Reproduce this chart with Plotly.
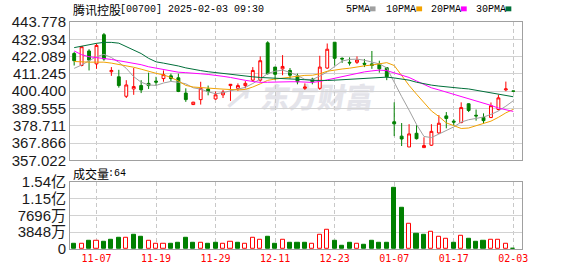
import base64
import plotly.graph_objects as go

# ---------------- data ----------------
dates = ['2024-11-04','2024-11-05','2024-11-06','2024-11-07','2024-11-08','2024-11-11','2024-11-12','2024-11-13',
         '2024-11-14','2024-11-15','2024-11-18','2024-11-19','2024-11-20','2024-11-21','2024-11-22','2024-11-25',
         '2024-11-26','2024-11-27','2024-11-28','2024-11-29','2024-12-02','2024-12-03','2024-12-04','2024-12-05',
         '2024-12-06','2024-12-09','2024-12-10','2024-12-11','2024-12-12','2024-12-13','2024-12-16','2024-12-17',
         '2024-12-18','2024-12-19','2024-12-20','2024-12-23','2024-12-24','2024-12-27','2024-12-30','2024-12-31',
         '2025-01-02','2025-01-03','2025-01-06','2025-01-07','2025-01-08','2025-01-09','2025-01-10','2025-01-13',
         '2025-01-14','2025-01-15','2025-01-16','2025-01-17','2025-01-20','2025-01-21','2025-01-22','2025-01-23',
         '2025-01-24','2025-01-27','2025-01-28','2025-02-03']

opens = [424.0, 416.5, 425.6, 417.5, 435.8, 412.6, 409.4, 397.2, 401.8, 403.9,
         405.3, 406.7, 408.3, 410.0, 408.8, 399.2, 392.0, 395.1, 401.8, 395.5,
         398.1, 403.9, 402.2, 403.9, 407.3, 407.3, 430.7, 415.5, 414.4, 413.4,
         410.0, 402.2, 407.9, 402.2, 414.9, 431.1, 421.0, 418.5, 418.5, 417.9,
         417.5, 417.5, 415.1, 381.2, 372.2, 365.4, 374.0, 365.0, 366.5, 374.2,
         384.9, 381.6, 380.7, 392.5, 385.3, 383.9, 383.9, 388.9, 401.2, 400.5]
highs = [425.0, 428.7, 426.7, 430.3, 436.9, 415.5, 413.8, 407.3, 414.9, 407.3,
         412.0, 409.4, 413.4, 411.4, 411.4, 402.2, 393.7, 406.3, 403.9, 400.2,
         401.2, 404.9, 405.3, 406.7, 415.5, 422.2, 431.7, 415.5, 423.0, 414.9,
         411.4, 405.3, 408.8, 422.6, 430.3, 431.1, 421.6, 421.6, 422.2, 420.6,
         425.6, 419.5, 415.5, 393.4, 380.4, 379.7, 379.1, 371.5, 379.7, 385.4,
         387.3, 382.8, 393.4, 392.8, 388.9, 386.5, 393.3, 398.2, 406.4, 400.5]
lows = [416.5, 416.0, 413.4, 414.4, 419.5, 410.0, 402.6, 396.1, 398.1, 399.2,
        401.8, 403.9, 406.3, 406.7, 399.8, 393.7, 391.7, 392.0, 397.8, 395.1,
        396.1, 394.3, 400.6, 402.2, 406.3, 406.3, 410.8, 407.3, 410.4, 408.3,
        404.7, 401.2, 404.7, 401.2, 414.4, 416.5, 418.1, 416.5, 417.5, 415.5,
        414.4, 412.0, 407.3, 372.2, 366.0, 365.4, 370.1, 365.0, 366.0, 373.6,
        377.1, 378.7, 380.3, 387.3, 381.9, 379.9, 383.5, 388.3, 400.4, 400.4]
closes = [419.5, 428.3, 419.9, 429.1, 420.6, 413.4, 403.9, 404.3, 403.3, 401.2,
          403.9, 406.1, 410.8, 408.3, 400.2, 395.1, 393.5, 402.2, 400.2, 398.1,
          399.8, 404.7, 403.9, 405.3, 413.4, 419.5, 411.4, 411.0, 415.9, 410.4,
          406.3, 403.0, 406.3, 415.5, 426.7, 421.0, 420.6, 418.1, 419.9, 417.3,
          416.5, 414.4, 409.4, 379.9, 370.4, 373.6, 370.6, 366.3, 375.2, 380.3,
          383.3, 381.0, 390.1, 388.3, 384.9, 381.9, 391.3, 396.2, 401.8, 400.4]

ma5 = [414.7, 416.8, 419.5, 422.0, 423.5, 421.5, 418.5, 414.7, 409.5, 406.0,
       404.3, 404.0, 405.5, 406.5, 406.0, 405.0, 402.5, 401.7, 400.0, 398.8,
       399.5, 400.5, 401.8, 402.8, 405.2, 408.0, 411.5, 412.9, 413.6, 412.2,
       410.2, 407.8, 407.7, 409.8, 412.5, 416.2, 419.3, 420.3, 420.5, 419.8,
       418.8, 417.5, 415.0, 405.5, 397.0, 388.5, 379.5, 372.0, 371.3, 373.5,
       375.5, 378.0, 381.0, 382.5, 383.3, 384.2, 385.8, 388.0, 391.0, 394.4]
ma10 = [419.0, 418.7, 418.6, 418.6, 418.6, 418.0, 417.2, 416.3, 415.4, 414.2,
        412.8, 411.6, 410.6, 409.0, 406.8, 404.0, 403.0, 402.8, 402.4, 402.0,
        401.7, 401.3, 401.2, 401.5, 403.0, 405.0, 407.2, 408.0, 408.5, 409.4,
        409.8, 410.3, 410.4, 411.3, 412.9, 413.7, 414.3, 414.8, 415.7, 416.3,
        416.8, 417.6, 418.3, 416.5, 410.0, 404.0, 398.5, 393.0, 388.0, 384.5,
        380.5, 378.8, 377.0, 377.3, 378.8, 380.2, 381.6, 384.0, 386.8, 389.0]
ma20 = [425.6, 423.3, 422.0, 421.5, 421.0, 420.3, 419.5, 418.8, 418.0, 417.0,
        415.7, 414.8, 413.9, 413.0, 412.3, 412.0, 411.8, 411.3, 410.9, 410.5,
        409.7, 409.0, 408.0, 407.2, 406.5, 405.9, 406.0, 406.2, 406.3, 406.3,
        406.3, 406.0, 405.9, 406.5, 407.5, 408.8, 409.8, 410.8, 411.7, 412.5,
        413.1, 413.6, 413.3, 411.8, 410.5, 409.0, 406.8, 404.5, 402.5, 401.2,
        399.8, 398.4, 397.2, 396.0, 394.5, 393.0, 391.5, 389.8, 388.6, 387.7]
ma30 = [427.7, 428.7, 429.6, 430.4, 431.0, 431.0, 430.5, 428.5, 426.3, 424.0,
        421.0, 418.8, 418.0, 417.2, 416.2, 415.0, 414.0, 413.3, 412.6, 412.0,
        411.4, 410.8, 410.2, 409.7, 409.4, 409.0, 408.8, 408.6, 408.5, 408.4,
        408.2, 407.6, 407.2, 407.0, 407.1, 407.3, 407.6, 407.9, 408.3, 408.7,
        408.9, 409.1, 409.2, 408.7, 408.1, 407.3, 406.0, 405.0, 404.2, 403.6,
        403.0, 402.6, 402.2, 401.8, 401.0, 400.3, 399.7, 398.8, 397.8, 396.9]

# volume in millions of shares, and whether the day closed up (red) or down (green)
volumes_m = [11.0, 12.5, 19.8, 19.1, 17.6, 22.0, 26.4, 25.7, 33.0, 28.6,
             19.1, 12.5, 12.5, 11.0, 15.4, 26.4, 15.4, 14.7, 11.0, 15.4,
             12.5, 16.9, 13.2, 12.5, 25.7, 21.3, 28.6, 11.0, 21.3, 15.4,
             13.2, 15.4, 12.5, 32.3, 43.2, 19.8, 6.6, 13.2, 12.5, 8.8,
             19.8, 15.4, 15.4, 141.0, 94.6, 58.6, 35.2, 33.0, 38.8, 28.6,
             24.2, 15.4, 30.0, 24.2, 17.6, 19.8, 21.3, 21.3, 12.5, 1.2]
vol_up = [0, 1, 0, 1, 0, 0, 0, 1, 0, 0,
          1, 1, 1, 0, 0, 0, 0, 1, 0, 0,
          1, 1, 0, 1, 1, 1, 0, 0, 1, 0,
          0, 0, 1, 1, 1, 0, 0, 0, 1, 0,
          0, 0, 0, 0, 0, 1, 0, 0, 1, 1,
          1, 0, 1, 0, 0, 0, 1, 1, 1, 0]

tick_dates = ['2024-11-07', '2024-11-19', '2024-11-29', '2024-12-11',
              '2024-12-23', '2025-01-07', '2025-01-17', '2025-02-03']
tick_labels = ['11-07', '11-19', '11-29', '12-11', '12-23', '01-07', '01-17', '02-03']
price_ticks = [357.022, 367.866, 378.711, 389.555, 400.400, 411.245, 422.089, 432.934, 443.778]
vol_ticks_m = [0, 38.48, 76.96, 115.44, 153.92]
vol_tick_text = ['0', '3848万', '7696万', '1.15亿', '1.54亿']

ma_names = ['5PMA', '10PMA', '20PMA', '30PMA']
ma_series = [ma5, ma10, ma20, ma30]

# ---------------- styling ----------------
W, H = 578, 276
L, R, T, B = 56, 56, 22, 21
RED = '#ff0000'
GREEN = '#008000'
MA_COLORS = ['#a0a0a0', '#f2a200', '#ff00ff', '#006f3a']
GRID = '#d2d2d2'
FRAME = '#a0a0a0'
NUM_FONT = 'Liberation Sans Narrow, Arial Narrow, Liberation Sans, Noto Sans CJK SC'
MONO = 'Liberation Mono, DejaVu Sans Mono, monospace'
TICK_MONO = 'DejaVu Sans Mono, Liberation Mono, monospace'
CJK = 'Noto Sans CJK SC'

plot_w = W - L - R
plot_h = H - T - B


def px_x(px):
    return (px - L) / plot_w


def px_y(py):
    return (H - B - py) / plot_h


main_dom = [px_y(164), 1.0]
vol_dom = [0.0, px_y(186)]

fig = go.Figure()

fig.add_trace(go.Candlestick(
    x=dates, open=opens, high=highs, low=lows, close=closes,
    xaxis='x', yaxis='y', whiskerwidth=0,
    increasing=dict(line=dict(color=RED, width=1), fillcolor='#ffffff'),
    decreasing=dict(line=dict(color=GREEN, width=1), fillcolor=GREEN),
    hoverinfo='skip', showlegend=False))

for name, series, color in zip(ma_names, ma_series, MA_COLORS):
    fig.add_trace(go.Scatter(x=dates, y=series, mode='lines', name=name,
                             line=dict(color=color, width=1),
                             xaxis='x', yaxis='y', hoverinfo='skip', showlegend=False))

vol_fill = ['#ffffff' if u else GREEN for u in vol_up]
vol_line = [RED if u else GREEN for u in vol_up]
fig.add_trace(go.Bar(x=dates, y=[v * 1e6 for v in volumes_m], xaxis='x2', yaxis='y2',
                     width=0.55, marker=dict(color=vol_fill, line=dict(color=vol_line, width=1)),
                     hoverinfo='skip', showlegend=False))

xrange = [-0.56, len(dates) - 1 + 1.17]
common_x = dict(type='category', range=xrange, tickvals=tick_dates, showgrid=True,
                gridcolor='#c8c8c8', gridwidth=1, griddash='4px,3px', showline=True,
                linecolor=FRAME, linewidth=1, mirror=True, ticks='', zeroline=False,
                fixedrange=True)

fig.update_layout(
    width=W, height=H, margin=dict(l=L, r=R, t=T, b=B, pad=0),
    paper_bgcolor='#ffffff', plot_bgcolor='rgba(0,0,0,0)',
    showlegend=False, boxgap=0.45, bargap=0,
    xaxis=dict(common_x, domain=[0, 1], anchor='y', showticklabels=False,
               rangeslider=dict(visible=False)),
    xaxis2=dict(common_x, domain=[0, 1], anchor='y2', matches='x', showticklabels=True,
                ticktext=tick_labels, tickfont=dict(family=TICK_MONO, size=10, color=RED)),
    yaxis=dict(domain=main_dom, range=[price_ticks[0], price_ticks[-1]], tickvals=price_ticks,
               ticktext=['%.3f' % v for v in price_ticks], showgrid=True, gridcolor=GRID,
               showline=True, linecolor=FRAME, mirror=True, ticks='', zeroline=False,
               tickfont=dict(family=NUM_FONT, size=15, color='#1a1a1a'), fixedrange=True),
    yaxis2=dict(domain=vol_dom, range=[0, vol_ticks_m[-1] * 1e6],
                tickvals=[v * 1e6 for v in vol_ticks_m], ticktext=vol_tick_text,
                showgrid=True, gridcolor=GRID, showline=True, linecolor=FRAME, mirror=True,
                ticks='', zeroline=False,
                tickfont=dict(family=NUM_FONT, size=15, color='#1a1a1a'), fixedrange=True),
)

ann = []
# title
ann.append(dict(text='腾讯控股', x=px_x(57), y=px_y(9), xref='paper', yref='paper',
                xanchor='left', yanchor='middle', showarrow=False,
                font=dict(family=CJK, size=12, color='#000000')))
ann.append(dict(text='[00700] 2025-02-03 09:30', x=px_x(105), y=px_y(9), xref='paper', yref='paper',
                xanchor='left', yanchor='middle', showarrow=False,
                font=dict(family=MONO, size=10, color='#000000')))
# volume caption
ann.append(dict(text='成交量', x=px_x(57), y=px_y(178), xref='paper', yref='paper',
                xanchor='left', yanchor='middle', showarrow=False,
                font=dict(family=CJK, size=12, color='#000000')))
ann.append(dict(text=':%d' % 64, x=px_x(93), y=px_y(178), xref='paper', yref='paper',
                xanchor='left', yanchor='middle', showarrow=False,
                font=dict(family=MONO, size=10, color='#000000')))

# legend
shapes = []
leg_text_x = [338, 380, 426, 472]
for name, color, tx in zip(ma_names, MA_COLORS, leg_text_x):
    ann.append(dict(text=name, x=px_x(tx), y=px_y(9), xref='paper', yref='paper',
                    xanchor='left', yanchor='middle', showarrow=False,
                    font=dict(family=MONO, size=10, color='#000000')))
    sx = tx + len(name) * 6 + 3
    shapes.append(dict(type='rect', xref='paper', yref='paper',
                       x0=px_x(sx), x1=px_x(sx + 6), y0=px_y(11), y1=px_y(6),
                       fillcolor=color, line=dict(width=0)))

fig.update_layout(annotations=ann, shapes=shapes)

# faint watermark behind the plot
svg = ('<svg xmlns="http://www.w3.org/2000/svg" width="160" height="34" viewBox="0 0 160 34">'
       '<text x="42" y="29" font-family="Noto Sans CJK SC" font-weight="900" font-size="29" '
       'fill="#e4e4ea" transform="skewX(-10)">东方财富</text>'
       '<text x="4" y="29" font-family="Noto Sans CJK SC" font-weight="900" font-size="29" '
       'fill="#e4e4ea" transform="skewX(-10)">↗</text></svg>')
src = 'data:image/svg+xml;base64,' + base64.b64encode(svg.encode('utf-8')).decode('ascii')
fig.add_layout_image(dict(source=src, xref='paper', yref='paper', x=px_x(215), y=px_y(81),
                          sizex=160 / plot_w, sizey=34 / plot_h, sizing='stretch',
                          xanchor='left', yanchor='top', layer='below'))

fig.write_html('out.html', config={'displayModeBar': False})
